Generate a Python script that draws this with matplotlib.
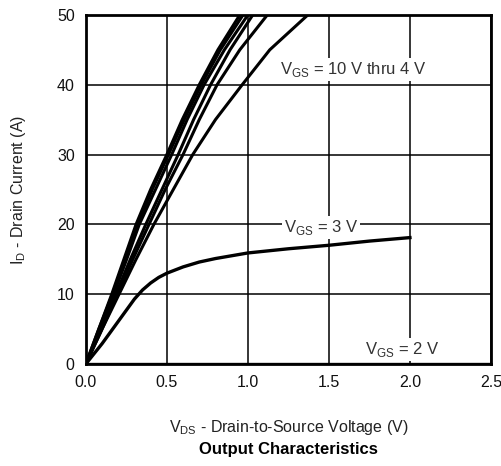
import matplotlib
matplotlib.use("Agg")
import matplotlib.pyplot as plt

plt.rcParams['font.family'] = ['Liberation Sans', 'DejaVu Sans']
plt.rcParams['mathtext.fontset'] = 'custom'
plt.rcParams['mathtext.rm'] = 'Liberation Sans'

# drain current levels (A) used for the steep curves
i_steep = [0, 5, 10, 15, 20, 25, 30, 35, 40, 45, 50]

# VGS = 10 V thru 4 V, drain voltage (V) at each current level
v_10 = [0, 0.08, 0.160, 0.235, 0.310, 0.40, 0.500, 0.595, 0.700, 0.815, 0.95]
v_8 = [0, 0.08, 0.165, 0.243, 0.320, 0.41, 0.510, 0.607, 0.712, 0.830, 0.97]
v_6 = [0, 0.09, 0.172, 0.252, 0.330, 0.43, 0.530, 0.625, 0.730, 0.855, 1.00]
v_5 = [0, 0.09, 0.185, 0.275, 0.370, 0.47, 0.570, 0.665, 0.770, 0.890, 1.03]
v_45 = [0, 0.10, 0.195, 0.290, 0.390, 0.49, 0.600, 0.700, 0.810, 0.950, 1.12]
v_4 = [0, 0.10, 0.205, 0.310, 0.420, 0.54, 0.660, 0.800, 0.965, 1.135, 1.37]

# VGS = 3 V
v_3 = [0, 0.1, 0.2, 0.3, 0.35, 0.4, 0.45, 0.5, 0.6, 0.7, 0.8, 0.9, 1.0, 1.25, 1.5, 1.75, 2.0]
i_3 = [0, 2.9, 6.1, 9.3, 10.6, 11.6, 12.4, 13.0, 13.9, 14.6, 15.1, 15.5, 15.9, 16.5, 17.0, 17.6, 18.1]

# VGS = 2 V
v_2 = [0, 2.5]
i_2 = [0, 0]

xticks = [0.0, 0.5, 1.0, 1.5, 2.0, 2.5]
yticks = [0, 10, 20, 30, 40, 50]

fig = plt.figure(figsize=(5.02, 4.66), dpi=100)
ax = fig.add_axes([0.171, 0.219, 0.807, 0.749])

for v in [v_10, v_8, v_6, v_5, v_45, v_4]:
    ax.plot(v, i_steep, color='black', lw=2.2, zorder=3)
ax.plot(v_3, i_3, color='black', lw=2.4, zorder=3)
ax.plot(v_2, i_2, color='black', lw=2.4, zorder=3)

ax.set_xlim(0, 2.5)
ax.set_ylim(0, 50)
ax.set_xticks(xticks)
ax.set_xticklabels(['%.1f' % x for x in xticks])
ax.set_yticks(yticks)
ax.grid(True, color='black', lw=1.1)
ax.tick_params(length=0, labelsize=11.5, pad=8, colors='#111111')
for s in ax.spines.values():
    s.set_linewidth(2)

box = dict(facecolor='white', edgecolor='none', pad=1.5)
ax.text(1.65, 42.2, r'V$_\mathregular{GS}$ = 10 V thru 4 V', fontsize=12, ha='center', va='center',
        color='#333333', bbox=box, zorder=4)
ax.text(1.45, 19.6, r'V$_\mathregular{GS}$ = 3 V', fontsize=12, ha='center', va='center',
        color='#333333', bbox=box, zorder=4)
ax.text(1.95, 2.0, r'V$_\mathregular{GS}$ = 2 V', fontsize=12, ha='center', va='center',
        color='#333333', bbox=box, zorder=4)

ax.set_xlabel(r'V$_\mathregular{DS}$ - Drain-to-Source Voltage (V)', fontsize=11.5, labelpad=20, color='#222222')
ax.set_ylabel(r'I$_\mathregular{D}$ - Drain Current (A)', fontsize=11.5, labelpad=21, color='#222222')
fig.text(0.575, 0.036, 'Output Characteristics', fontsize=12, fontweight='bold', ha='center', va='center')

fig.savefig('out.png', dpi=100)
